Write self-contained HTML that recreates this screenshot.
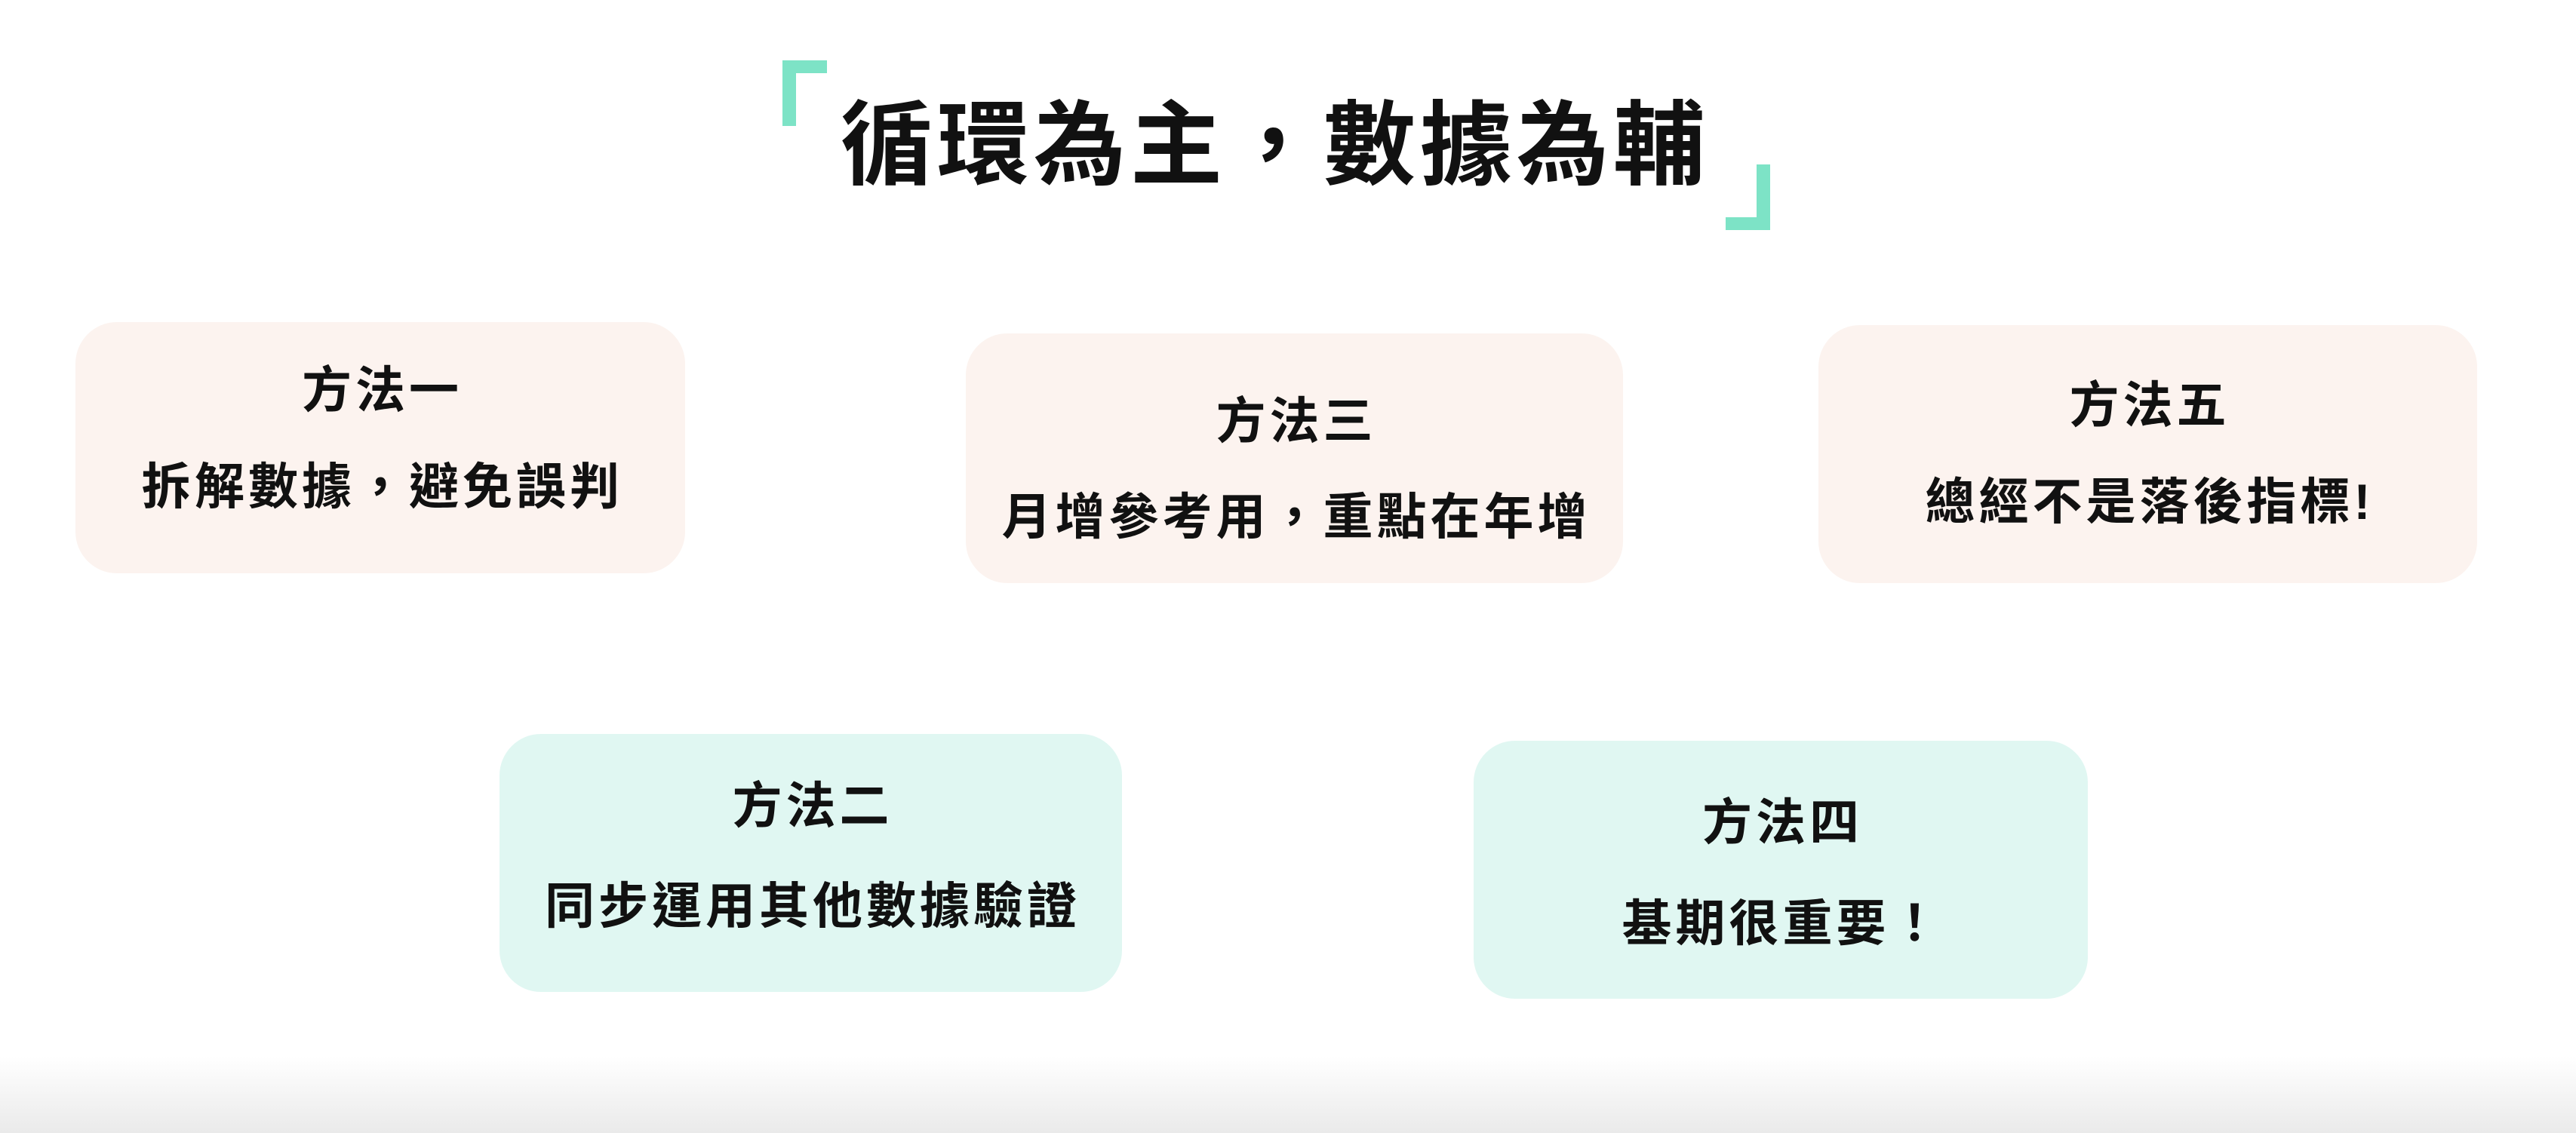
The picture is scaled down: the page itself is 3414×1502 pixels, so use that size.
<!DOCTYPE html>
<html><head><meta charset="utf-8"><style>
html,body{margin:0;padding:0;}
body{width:3414px;height:1502px;position:relative;overflow:hidden;background:#fff;font-family:"Liberation Sans","Noto Sans CJK TC",sans-serif;color:#111;}
.grad{position:absolute;left:0;top:1400px;width:3414px;height:102px;background:linear-gradient(#fff,#eaeaea);}
.br{position:absolute;border-color:#7de3c6;border-style:solid;}
.title{position:absolute;left:0;width:3414px;top:118px;text-align:center;font-size:122px;font-weight:bold;letter-spacing:6px;line-height:150px;text-indent:-34px;}
.box{position:absolute;border-radius:55px;}
.p{background:#fcf3ef}.g{background:#e0f7f2}
.t{position:absolute;width:100%;text-align:center;font-weight:bold;font-size:66px;letter-spacing:5px;text-indent:5px;line-height:80px;}
</style></head><body>
<div class="br" style="left:1037px;top:80px;width:41px;height:70px;border-width:17px 0 0 18px;"></div>
<div class="br" style="left:2287px;top:218px;width:41px;height:70px;border-width:0 18px 17px 0;"></div>
<div class="title">循環為主，數據為輔</div>

<div class="box p" style="left:100px;top:427px;width:808px;height:333px;">
<div class="t" style="top:50px">方法一</div><div class="t" style="top:178px">拆解數據，避免誤判</div></div>
<div class="box p" style="left:1280px;top:442px;width:871px;height:331px;">
<div class="t" style="top:76px">方法三</div><div class="t" style="top:203px">月增參考用，重點在年增</div></div>
<div class="box p" style="left:2410px;top:431px;width:873px;height:342px;">
<div class="t" style="top:66px">方法五</div><div class="t" style="top:194px">總經不是落後指標!</div></div>
<div class="box g" style="left:662px;top:973px;width:825px;height:342px;">
<div class="t" style="top:55px">方法二</div><div class="t" style="top:188px">同步運用其他數據驗證</div></div>
<div class="box g" style="left:1953px;top:982px;width:814px;height:342px;">
<div class="t" style="top:68px">方法四</div><div class="t" style="top:202px">基期很重要！</div></div>
<div class="grad"></div>
</body></html>
